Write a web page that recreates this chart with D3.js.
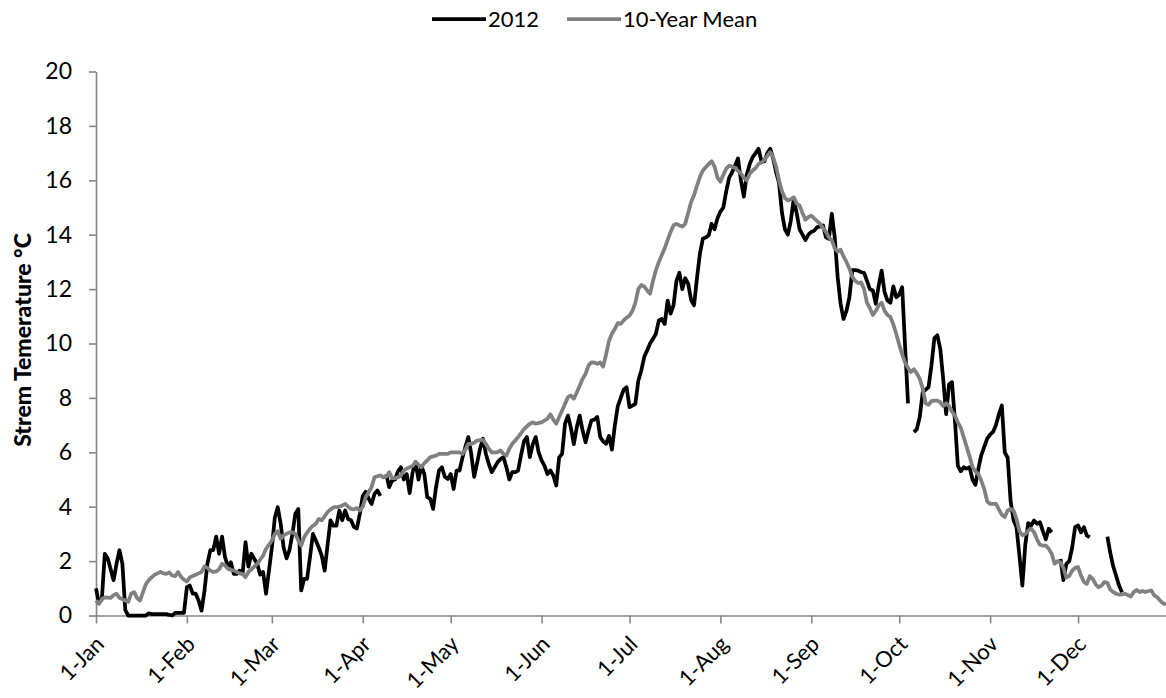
<!DOCTYPE html>
<html>
<head>
<meta charset="utf-8">
<script src="https://cdn.jsdelivr.net/npm/d3@7"></script>
<style>
  body { margin: 0; background: #fff; }
  svg { display: block; }
  text { font-family: Lato, "Open Sans", sans-serif; fill: #000; }
</style>
</head>
<body>
<svg id="chart" width="1166" height="698"></svg>
<script>
// Series names, in legend order
const seriesNames = ["2012", "10-Year Mean"];

// Month tick labels (first day of each month)
const monthLabels = ["1-Jan", "1-Feb", "1-Mar", "1-Apr", "1-May", "1-Jun",
                     "1-Jul", "1-Aug", "1-Sep", "1-Oct", "1-Nov", "1-Dec"];

// Y axis ticks, °C
const tempTicks = [0, 2, 4, 6, 8, 10, 12, 14, 16, 18, 20];

// Daily stream temperature for 2012, one value per day from 1 Jan (null = no record)
const temp2012 = [
  1.0, 0.45, 0.6, 2.27, 2.1, 1.7, 1.3, 1.9, 2.4, 1.9,
  0.2, 0, 0, 0, 0, 0, 0, 0, 0.08, 0.05,
  0.05, 0.05, 0.05, 0.05, 0.05, 0.02, 0, 0.1, 0.1, 0.1,
  0.1, 1.04, 1.1, 0.8, 0.8, 0.55, 0.18, 0.9, 1.9, 2.4,
  2.4, 2.9, 2.27, 2.9, 2.15, 1.8, 1.96, 1.53, 1.53, 1.65,
  1.53, 2.7, 1.8, 2.27, 2.08, 1.9, 1.5, 1.6, 0.8, 1.65,
  2.5, 3.6, 3.98, 3.37, 2.5, 2.1, 2.4, 3.0, 3.74, 3.92,
  0.92, 1.35, 1.35, 2.15, 3.0, 2.76, 2.5, 2.2, 1.65, 2.6,
  3.5, 3.3, 3.3, 3.86, 3.5, 3.86, 3.55, 3.5, 3.25, 3.2,
  3.74, 4.4, 4.55, 4.3, 4.1, 4.47, 4.6, 4.4, null, 5.2,
  4.72, 4.96, 5.0, 5.3, 5.45, 5.0, 5.2, 4.5, 5.27, 5.64,
  5.0, 5.5, 5.2, 4.35, 4.29, 3.92, 4.72, 5.33, 5.45, 5.1,
  5.02, 5.2, 4.65, 5.33, 5.33, 5.8, 6.2, 6.56, 5.94, 5.1,
  5.6, 6.13, 6.5, 5.94, 5.57, 5.27, 5.45, 5.64, 5.75, 5.82,
  5.45, 5.0, 5.27, 5.27, 5.33, 5.9, 6.4, 6.56, 5.82, 6.3,
  6.56, 6.0, 5.7, 5.5, 5.2, 5.33, 5.15, 4.78, 5.82, 5.94,
  7.05, 7.35, 6.9, 6.3, 6.92, 7.35, 6.8, 6.37, 6.8, 7.17,
  7.2, 7.3, 6.56, 6.4, 6.31, 6.6, 6.1, 7.0, 7.7, 8.0,
  8.3, 8.39, 7.66, 7.72, 7.78, 8.64, 9.0, 9.5, 9.74, 10.0,
  10.17, 10.36, 10.85, 10.9, 10.72, 11.58, 11.1, 11.4, 12.3, 12.6,
  12.0, 12.4, 12.2, 11.6, 11.4, 12.4, 13.3, 13.85, 13.9, 13.97,
  14.4, 14.2, 14.6, 14.85, 15.0, 15.6, 16.1, 16.3, 16.54, 16.8,
  16.0, 15.4, 16.2, 16.6, 16.85, 17.0, 17.16, 16.7, 16.7, 17.0,
  17.16, 16.8, 16.3, 15.9, 14.8, 14.2, 14.0, 14.5, 15.3, 14.8,
  14.2, 14.0, 13.8, 14.0, 14.1, 14.15, 14.28, 14.3, 14.34, 13.9,
  13.85, 14.77, 13.9, 12.44, 11.46, 10.9, 11.2, 11.7, 12.7, 12.7,
  12.68, 12.62, 12.6, 12.3, 12.0, 11.95, 11.46, 12.13, 12.68, 11.89,
  11.58, 11.5, 12.1, 11.7, 11.8, 12.07, 9.9, 7.8, null, 6.74,
  6.85, 7.3, 8.2, 8.3, 8.4, 9.2, 10.2, 10.3, 9.8, 8.7,
  7.4, 8.5, 8.58, 7.17, 5.5, 5.3, 5.45, 5.4, 5.45, 5.0,
  4.8, 5.4, 5.9, 6.2, 6.5, 6.65, 6.75, 7.0, 7.4, 7.72,
  6.0, 5.8, 4.2, 3.5, 3.25, 2.2, 1.1, 2.6, 3.4, 3.31,
  3.49, 3.37, 3.43, 3.1, 2.8, 3.19, 3.06, null, null, 2.08,
  1.3, 1.9, 2.0, 2.5, 3.25, 3.31, 3.06, 3.25, 2.94, 2.88,
  null, null, null, null, null, 2.9, 2.3, 1.8, 1.45, 1.1,
  0.85, null, null, null, null, null, null, null, null, null,
  null, null, null, null, null, null
];

// Ten-year mean daily stream temperature, one value per day from 1 Jan
const tempMean = [
  0.55, 0.43, 0.6, 0.67, 0.66, 0.65, 0.75, 0.8, 0.65, 0.6,
  0.55, 0.5, 0.8, 0.86, 0.65, 0.55, 0.85, 1.15, 1.3, 1.4,
  1.5, 1.55, 1.6, 1.55, 1.53, 1.58, 1.47, 1.45, 1.6, 1.42,
  1.32, 1.25, 1.4, 1.45, 1.5, 1.55, 1.6, 1.8, 1.75, 1.65,
  1.6, 1.62, 1.7, 1.9, 1.84, 1.72, 1.68, 1.65, 1.6, 1.55,
  1.53, 1.41, 1.6, 1.7, 1.8, 1.9, 2.05, 2.2, 2.45, 2.6,
  2.76, 3.0, 3.1, 2.82, 2.95, 3.0, 3.06, 3.06, 3.0, 2.76,
  2.57, 2.88, 3.05, 3.19, 3.3, 3.37, 3.55, 3.5, 3.65, 3.8,
  3.9, 3.98, 3.98, 4.0, 4.04, 4.1, 4.0, 3.92, 3.9, 3.95,
  3.86, 4.0, 4.35, 4.53, 4.72, 5.08, 5.12, 5.15, 5.08, 5.1,
  5.27, 5.05, 5.05, 5.08, 5.15, 5.33, 5.4, 5.45, 5.5, 5.64,
  5.55, 5.45, 5.6, 5.7, 5.82, 5.85, 5.88, 5.94, 5.94, 5.94,
  5.94, 6.0, 6.0, 6.0, 6.0, 5.94, 6.1, 6.31, 6.31, 6.35,
  6.43, 6.45, 6.46, 6.31, 6.13, 6.0, 6.0, 6.0, 6.07, 5.94,
  5.88, 6.13, 6.31, 6.43, 6.56, 6.7, 6.85, 6.95, 7.05, 7.1,
  7.05, 7.08, 7.1, 7.17, 7.23, 7.4, 7.2, 7.05, 7.3, 7.54,
  7.78, 8.03, 8.09, 7.97, 8.2, 8.45, 8.7, 8.88, 9.19, 9.31,
  9.3, 9.25, 9.3, 9.15, 9.6, 10.1, 10.36, 10.54, 10.75, 10.72,
  10.85, 10.95, 11.03, 11.2, 11.5, 12.0, 12.15, 12.1, 11.95, 11.83,
  12.3, 12.7, 13.0, 13.25, 13.5, 13.8, 14.1, 14.34, 14.4, 14.34,
  14.3, 14.4, 14.8, 15.2, 15.45, 15.8, 16.12, 16.36, 16.48, 16.6,
  16.7, 16.5, 16.1, 15.95, 16.2, 16.43, 16.54, 16.5, 16.45, 16.35,
  16.25, 16.1, 16.0, 16.24, 16.36, 16.45, 16.6, 16.65, 16.75, 16.9,
  17.03, 16.85, 16.5, 16.0, 15.6, 15.35, 15.26, 15.3, 15.38, 15.15,
  15.07, 14.8, 14.55, 14.65, 14.7, 14.6, 14.5, 14.4, 14.25, 14.1,
  13.9, 13.8, 13.5, 13.38, 13.45, 13.2, 13.0, 12.75, 12.45, 12.3,
  12.22, 12.25, 12.0, 11.5, 11.3, 11.05, 11.2, 11.4, 11.5, 11.2,
  11.05, 10.97, 10.7, 10.35, 9.95, 9.6, 9.3, 9.1, 8.95, 9.05,
  8.9, 8.7, 8.35, 7.8, 7.75, 7.88, 7.9, 7.9, 7.84, 7.7,
  7.8, 7.7, 7.5, 7.35, 7.1, 6.9, 6.55, 6.2, 5.85, 5.45,
  5.3, 5.2, 4.95, 4.65, 4.2, 4.1, 4.1, 4.1, 3.9, 3.7,
  3.62, 3.86, 3.92, 3.86, 3.55, 3.1, 2.95, 3.0, 3.12, 3.19,
  3.06, 2.8, 2.6, 2.57, 2.57, 2.45, 2.27, 1.9, 2.0, 1.95,
  1.75, 1.4, 1.45, 1.65, 1.75, 1.78, 1.47, 1.23, 1.16, 1.45,
  1.35, 1.15, 1.04, 1.1, 1.23, 1.2, 0.95, 0.86, 0.8, 0.77,
  0.78, 0.8, 0.75, 0.7, 0.86, 0.94, 0.86, 0.9, 0.86, 0.9,
  0.92, 0.74, 0.67, 0.55, 0.45, 0.4
];

const seriesColors = ["#000000", "#808080"];
const axisColor = "#868686";
const labelFont = "Lato, 'Open Sans', sans-serif";

const svg = d3.select("#chart");

const dayDate = i => new Date(Date.UTC(2012, 0, 1 + i));

const x = d3.scaleUtc()
  .domain([Date.UTC(2012, 0, 1), Date.UTC(2012, 11, 31)])
  .range([96, 1166]);

const y = d3.scaleLinear()
  .domain([0, 20])
  .range([615.5, 71.5]);

// Y axis
const yAxis = svg.append("g")
  .attr("transform", "translate(96,0)")
  .call(d3.axisLeft(y).tickValues(tempTicks).tickSize(7).tickSizeOuter(0).tickPadding(17));
yAxis.select(".domain").attr("stroke", axisColor).attr("stroke-width", 1.6);
yAxis.selectAll(".tick line").attr("stroke", axisColor).attr("stroke-width", 1.6);
yAxis.selectAll(".tick text")
  .style("font-family", labelFont)
  .style("font-size", "23px")
  .attr("fill", "#000");

// X axis, ticks on the first of each month
const monthStarts = d3.range(12).map(m => new Date(Date.UTC(2012, m, 1)));
const xAxis = svg.append("g")
  .attr("transform", `translate(0,${y(0)})`)
  .call(d3.axisBottom(x).tickValues(monthStarts).tickSize(8).tickSizeOuter(0)
    .tickFormat((d, i) => monthLabels[i]));
xAxis.select(".domain").attr("stroke", axisColor).attr("stroke-width", 1.6);
xAxis.selectAll(".tick line").attr("stroke", axisColor).attr("stroke-width", 1.6);
xAxis.selectAll(".tick text")
  .style("font-family", labelFont)
  .style("font-size", "22px")
  .attr("fill", "#000")
  .attr("text-anchor", "end")
  .attr("y", 0)
  .attr("dy", 0)
  .attr("transform", "translate(9,30) rotate(-45)");

// Y axis title
svg.append("text")
  .attr("transform", "translate(31,340) rotate(-90)")
  .attr("text-anchor", "middle")
  .style("font-size", "23px")
  .style("font-weight", "900")
  .text("Strem Temerature °C");

// Series lines
const line = d3.line()
  .defined(d => d.v != null)
  .x(d => x(d.date))
  .y(d => y(d.v));

[temp2012, tempMean].forEach((vals, k) => {
  const pts = vals.map((v, i) => ({ date: dayDate(i), v }));
  svg.append("path")
    .datum(pts)
    .attr("fill", "none")
    .attr("stroke", seriesColors[k])
    .attr("stroke-width", 3.75)
    .attr("stroke-linejoin", "round")
    .attr("stroke-linecap", "butt")
    .attr("d", line);
});

// Legend
const legendItems = [
  { name: seriesNames[0], color: seriesColors[0], x0: 432 },
  { name: seriesNames[1], color: seriesColors[1], x0: 567 }
];
const legend = svg.append("g");
legendItems.forEach(it => {
  legend.append("line")
    .attr("x1", it.x0).attr("x2", it.x0 + 54)
    .attr("y1", 19).attr("y2", 19)
    .attr("stroke", it.color).attr("stroke-width", 3.75);
  legend.append("text")
    .attr("x", it.x0 + 56).attr("y", 19)
    .attr("dy", "0.36em")
    .style("font-size", "22px")
    .text(it.name);
});
</script>
</body>
</html>
